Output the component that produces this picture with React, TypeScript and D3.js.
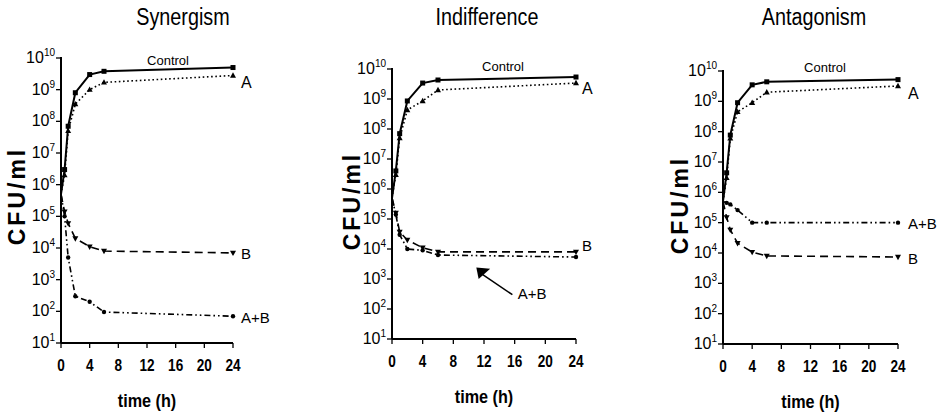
import React from "react";
import * as d3 from "d3";

const timePoints = [0, 0.5, 1, 2, 4, 6, 24];
const xTicks = [0, 4, 8, 12, 16, 20, 24];
const yTickExps = [1, 2, 3, 4, 5, 6, 7, 8, 9, 10];
const panelTitles = ["Synergism", "Indifference", "Antagonism"];
const seriesNames = ["Control", "A", "B", "A+B"];

const synControl = [5e5, 3e6, 7e7, 8e8, 3e9, 3.8e9, 5e9];
const synA = [5e5, 2e6, 5e7, 3.5e8, 1e9, 1.7e9, 2.8e9];
const synB = [5e5, 1.4e5, 6e4, 2e4, 1.1e4, 8e3, 7e3];
const synAB = [5e5, 1e5, 5e3, 3e2, 2e2, 95, 70];

const indControl = [5e5, 4e6, 7e7, 8.6e8, 3.4e9, 4.3e9, 5.4e9];
const indA = [5e5, 3e6, 5e7, 4.3e8, 8.6e8, 2e9, 3.4e9];
const indB = [5e5, 1.6e5, 3.7e4, 2e4, 1.1e4, 8e3, 8e3];
const indAB = [5e5, 1.4e5, 3e4, 1e4, 9e3, 6.3e3, 5.4e3];

const antControl = [5e5, 4.4e6, 7.7e7, 9e8, 3.5e9, 4.4e9, 5.2e9];
const antA = [5e5, 3e6, 6e7, 4.5e8, 9e8, 2e9, 3.2e9];
const antB = [5e5, 1.5e5, 5.8e4, 2.1e4, 1.07e4, 8e3, 7.4e3];
const antAB = [5e5, 4.5e5, 4e5, 2.6e5, 1e5, 1e5, 1e5];

const panelData = [
  [synControl, synA, synB, synAB],
  [indControl, indA, indB, indAB],
  [antControl, antA, antB, antAB],
];

// layout (pixels)
const layouts = [
  { x0: 61, x1: 233, yTop: 58, yBot: 343, titleX: 183, ylabX: 17, ylabY: 196, ctrlX: 168, ctrlY: 65,
    lab: { A: 82, B: 253, AB: 317 }, labX: 241 },
  { x0: 392, x1: 576, yTop: 69, yBot: 339, titleX: 487, ylabX: 352, ylabY: 201, ctrlX: 503, ctrlY: 71,
    lab: { A: 88, B: 245, AB: null }, labX: 582 },
  { x0: 723, x1: 898, yTop: 71, yBot: 344, titleX: 814, ylabX: 680, ylabY: 205, ctrlX: 825, ctrlY: 72,
    lab: { A: 93, B: 258, AB: 223 }, labX: 908 },
];

const dashes = ["none", "1.6,2.6", "8,5", "6,3,1.6,3,1.6,3"];
const widths = [2, 1.6, 1.6, 1.6];

function Marker({ kind, x, y }: { kind: number; x: number; y: number }) {
  if (kind === 0) return <rect x={x - 2.5} y={y - 2.5} width={5} height={5} fill="#000" />;
  if (kind === 1) return <path d={`M${x},${y - 3.2}L${x + 3},${y + 2.2}L${x - 3},${y + 2.2}Z`} fill="#000" />;
  if (kind === 2) return <path d={`M${x},${y + 3.2}L${x + 3},${y - 2.2}L${x - 3},${y - 2.2}Z`} fill="#000" />;
  return <circle cx={x} cy={y} r={2.2} fill="#000" />;
}

function sx(cx: number, k: number) {
  return `translate(${cx},0) scale(${k},1) translate(${-cx},0)`;
}

function Panel({ idx }: { idx: number }) {
  const L = layouts[idx];
  const x = d3.scaleLinear().domain([0, 24]).range([L.x0, L.x1]);
  const y = d3.scaleLog().domain([10, 1e10]).range([L.yBot, L.yTop]);
  const line = d3
    .line<[number, number]>()
    .x((d) => x(d[0]))
    .y((d) => y(d[1]));
  const series = panelData[idx];
  const font = "'Liberation Sans', Arial, sans-serif";
  return (
    <g>
      <text x={L.titleX} y={25} textAnchor="middle" fontSize={23} fontFamily={font} transform={sx(L.titleX, 0.86)}>
        {panelTitles[idx]}
      </text>
      {/* axes */}
      <line x1={L.x0} x2={L.x0} y1={L.yTop - 1} y2={L.yBot} stroke="#000" strokeWidth={2} />
      <line x1={L.x0} x2={L.x1} y1={L.yBot} y2={L.yBot} stroke="#000" strokeWidth={2} />
      {yTickExps.map((e) => (
        <g key={e}>
          <line x1={L.x0 - 5} x2={L.x0} y1={y(Math.pow(10, e))} y2={y(Math.pow(10, e))} stroke="#000" strokeWidth={1.3} />
          <text x={L.x0 - 6} y={y(Math.pow(10, e)) + 5} textAnchor="end" fontSize={16} fontFamily={font}>
            10
            <tspan fontSize={10} dy={-7}>
              {e}
            </tspan>
          </text>
        </g>
      ))}
      {xTicks.map((t) => (
        <g key={t}>
          <line x1={x(t)} x2={x(t)} y1={L.yBot} y2={L.yBot + 5} stroke="#000" strokeWidth={1.3} />
          <text x={x(t)} y={L.yBot + 28} textAnchor="middle" fontSize={16} fontFamily={font} fontWeight="bold" transform={sx(x(t), 0.85)}>
            {t}
          </text>
        </g>
      ))}
      <text x={(L.x0 + L.x1) / 2} y={L.yBot + 64} textAnchor="middle" fontSize={18} fontWeight="bold" fontFamily={font} transform={sx((L.x0 + L.x1) / 2, 0.9)}>
        time (h)
      </text>
      <text
        transform={`translate(${L.ylabX + 8},${L.ylabY}) rotate(-90)`}
        textAnchor="middle"
        fontSize={23}
        fontWeight="bold"
        letterSpacing={3}
        fontFamily={font}
      >
        CFU/ml
      </text>
      {series.map((vals, si) => {
        const pts: [number, number][] = timePoints.map((t, i) => [t, vals[i]]);
        return (
          <g key={si}>
            <path d={line(pts) || ""} fill="none" stroke="#000" strokeWidth={widths[si]} strokeDasharray={dashes[si]} />
            {pts.slice(1).map((p, i) => (
              <Marker key={i} kind={si} x={x(p[0])} y={y(p[1])} />
            ))}
          </g>
        );
      })}
      <text x={L.ctrlX} y={L.ctrlY} textAnchor="middle" fontSize={13} fontFamily={font}>
        {seriesNames[0]}
      </text>
      <text x={L.labX} y={L.lab.A + 6} fontSize={16} fontFamily={font}>
        {seriesNames[1]}
      </text>
      <text x={L.labX} y={L.lab.B + 6} fontSize={15} fontFamily={font}>
        {seriesNames[2]}
      </text>
      {L.lab.AB !== null && (
        <text x={L.labX} y={(L.lab.AB as number) + 6} fontSize={15} fontFamily={font}>
          {seriesNames[3]}
        </text>
      )}
      {idx === 1 && (
        <g>
          <line x1={x(15.7)} y1={y(3e2)} x2={x(11.5)} y2={y(1.6e3)} stroke="#000" strokeWidth={1.5} />
          <path
            d={`M${x(11)},${y(2.4e3)}L${x(12.8)},${y(2.2e3)}L${x(11.3)},${y(1.0e3)}Z`}
            fill="#000"
          />
          <text x={x(16.4)} y={y(2.2e2)} fontSize={15} fontFamily={font}>
            {seriesNames[3]}
          </text>
        </g>
      )}
    </g>
  );
}

export default function App() {
  return (
    <svg width={945} height={415} style={{ display: "block", position: "absolute", left: 0, top: 0 }}>
      <rect x={0} y={0} width={945} height={415} fill="#fff" />
      {[0, 1, 2].map((i) => (
        <Panel key={i} idx={i} />
      ))}
    </svg>
  );
}
